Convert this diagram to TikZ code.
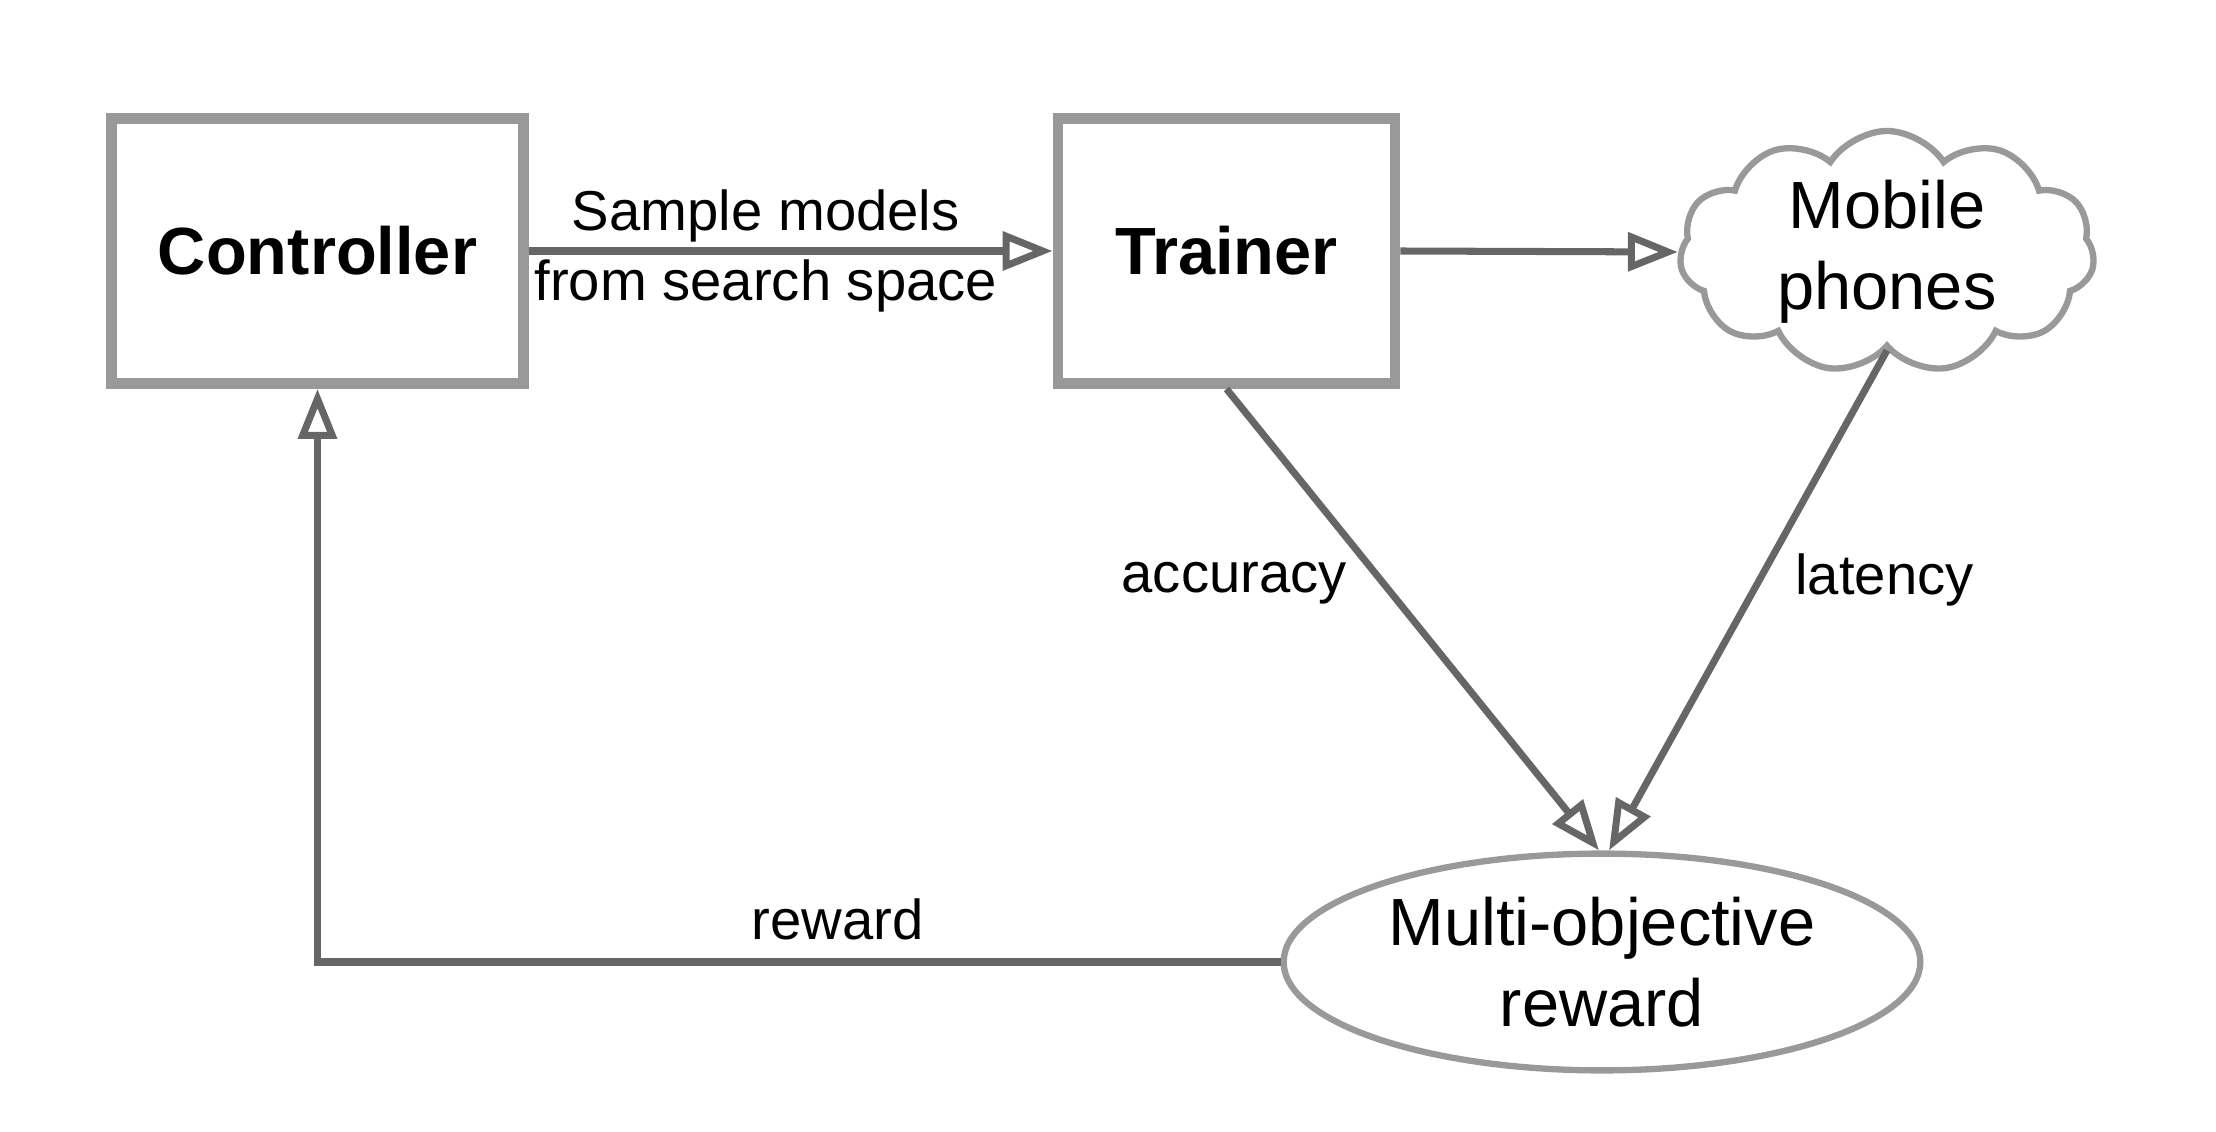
\documentclass[tikz,border=0pt]{standalone}
\usepackage{fontspec}
\setmainfont{Liberation Sans}
\definecolor{boxgray}{RGB}{153,153,153}
\definecolor{arrowgray}{RGB}{102,102,102}
\usetikzlibrary{arrows.meta,positioning,shapes.geometric,shapes.symbols,calc}

\tikzset{
  stagebox/.style={draw=boxgray,line width=3.1pt,fill=white,
        minimum width=#1,minimum height=2.65cm,align=center,
        font=\fontsize{19}{23}\selectfont\bfseries},
  flow/.style={-{Triangle[open,length=5mm,width=3.8mm]},line width=2pt,arrowgray},
  flowlabel/.style={font=\fontsize{16}{20}\selectfont,align=center,text=black},
}

\begin{document}
\begin{tikzpicture}
  \useasboundingbox (0,0) rectangle (22.16,-11.32);
  \node[stagebox=4.12cm] (ctrl) at (3.175,-2.51) {Controller};
  \node[stagebox=3.37cm] (trainer) at (12.265,-2.51) {Trainer};
  \node[cloud,cloud puffs=11,cloud puff arc=115,cloud ignores aspect,inner sep=0pt,
        draw=boxgray,line width=1.8pt,minimum width=4.15cm,minimum height=2.25cm,
        align=center,font=\fontsize{19}{23}\selectfont]
        (phones) at (18.87,-2.52) {Mobile\\phones};
  \node[ellipse,draw=boxgray,line width=1.8pt,minimum width=6.3cm,minimum height=1.87cm,
        align=center,font=\fontsize{19}{23}\selectfont]
        (reward) at (16.02,-9.62) {Multi-objective\\reward};
  \draw[flow] (ctrl.east) -- node[flowlabel,xshift=-0.25cm] {Sample models\\from search space} (trainer.west);
  \draw[flow] (trainer.east) -- (phones.west);
  \draw[flow] (trainer.south) -- node[flowlabel,pos=0.42,left=6pt] {accuracy} ($(reward.north)+(-0.03,0)$);
  \draw[flow] (phones.south) -- node[flowlabel,pos=0.46,right=6pt] {latency} ($(reward.north)+(0.07,0)$);
  \draw[flow] (reward.west) -| node[flowlabel,pos=0.23,above=2pt] {reward} (ctrl.south);
\end{tikzpicture}
\end{document}
